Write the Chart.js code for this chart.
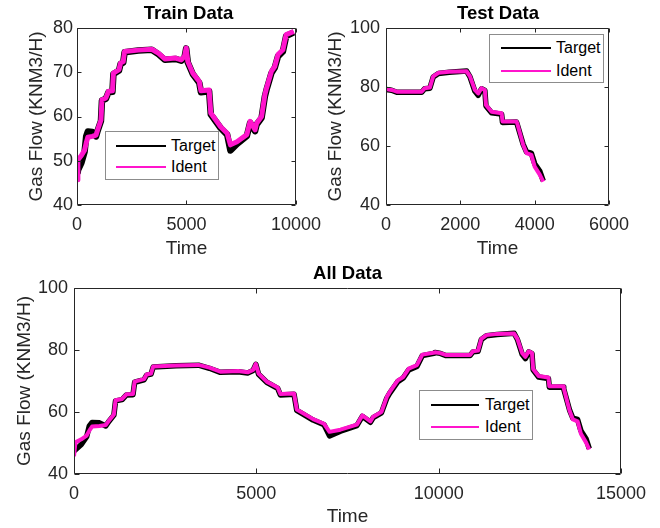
<!DOCTYPE html>
<html>
<head>
<meta charset="utf-8">
<script src="https://cdn.jsdelivr.net/npm/chart.js@4.4.1/dist/chart.umd.min.js"></script>
<style>
  body { margin: 0; background: #fff; }
  #fig { position: relative; width: 660px; height: 528px; background: #fff; overflow: hidden;
         font-family: 'Liberation Sans', Arial, sans-serif; }
  #fig canvas { position: absolute; }
  .ttl { position: absolute; width: 240px; text-align: center; font-weight: bold; font-size: 18.5px;
         line-height: 18px; color: #000; }
  .leg { position: absolute; background: #fff; border: 1px solid #8c8c8c; box-sizing: border-box; }
  .leg .ln { position: absolute; height: 0; }
  .leg .tx { position: absolute; font-size: 16px; line-height: 16px; color: #000; white-space: nowrap; }
</style>
</head>
<body>
<div id="fig">
  <canvas id="cTrain" width="330" height="260" style="left:0;top:0"></canvas>
  <canvas id="cTest" width="350" height="260" style="left:310px;top:0"></canvas>
  <canvas id="cAll" width="660" height="268" style="left:0;top:260px"></canvas>
</div>
<script>
// ---- data ----
const seriesNames = ['Target', 'Ident'];
const titles = ['Train Data', 'Test Data', 'All Data'];
const xLabel = 'Time';
const yLabel = 'Gas Flow (KNM3/H)';

const trainTime = [0, 40, 200, 346, 420, 495, 700, 870, 944, 1094,
  1139, 1319, 1438, 1618, 1663, 1918, 1992, 2112, 2172, 2800,
  3415, 3714, 4013, 4500, 4762, 4912, 4986, 5061, 5286, 5585,
  5660, 6034, 6109, 6558, 6858, 7007, 7306, 7756, 7906, 8130,
  8205, 8430, 8579, 8654, 8879, 9029, 9178, 9403, 9553, 9900];
const trainIdent = [45.7, 50.2, 51.2, 52.4, 54.0, 55.3, 55.5, 55.8, 57.0, 59.2,
  63.8, 64.2, 65.7, 65.8, 69.8, 70.6, 72.1, 72.4, 74.7, 75.0,
  75.2, 74.3, 73.0, 73.2, 72.8, 73.6, 75.5, 72.4, 69.8, 67.9,
  65.8, 66.0, 60.8, 57.7, 56.2, 53.6, 54.3, 55.9, 58.9, 57.0,
  58.5, 60.0, 64.9, 66.4, 70.2, 71.3, 74.0, 75.1, 78.5, 79.2];
const trainTarget = [47.5, 47.8, 49.5, 52.0, 55.5, 56.6, 56.5, 55.5, 56.8, 59.0,
  63.6, 64.0, 65.5, 65.6, 69.6, 70.4, 71.9, 72.2, 74.5, 74.9,
  75.1, 74.1, 72.8, 73.0, 72.6, 73.4, 75.4, 72.2, 69.6, 67.6,
  65.5, 65.7, 60.5, 57.4, 55.9, 52.3, 53.8, 55.6, 58.6, 56.7,
  58.2, 59.7, 64.5, 66.0, 69.8, 71.0, 73.6, 74.7, 78.2, 79.0];

const testTime = [0, 150, 290, 960, 1040, 1180, 1270, 1410, 1700, 2170,
  2260, 2390, 2480, 2570, 2660, 2690, 2840, 3110, 3135, 3510,
  3530, 3690, 3780, 3910, 4000, 4140, 4230];
const testIdent = [79.3, 79.0, 78.4, 78.4, 79.6, 79.8, 83.6, 84.8, 85.2, 85.3,
  83.6, 79.0, 77.8, 79.6, 79.0, 73.9, 71.6, 71.1, 68.3, 68.3,
  67.7, 60.4, 57.6, 57.0, 53.0, 50.2, 47.9];
const testTarget = [79.2, 78.9, 78.2, 78.2, 79.4, 79.6, 83.4, 84.6, 85.0, 85.4,
  83.4, 78.6, 77.2, 79.4, 78.8, 73.6, 71.3, 70.8, 68.0, 68.1,
  67.4, 60.6, 58.0, 57.6, 54.0, 51.4, 48.2];

// axis ticks
const trainXTicks = [0, 5000, 10000];
const trainYTicks = [40, 50, 60, 70, 80];
const testXTicks = [0, 2000, 4000, 6000];
const testYTicks = [40, 60, 80, 100];
const allXTicks = [0, 5000, 10000, 15000];
const allYTicks = [40, 60, 80, 100];

const colTarget = '#000000';
const colIdent = '#ff14cc';
const axisCol = '#262626';
Chart.defaults.font.family = "'Liberation Sans', Arial, sans-serif";

// all data = train followed by test
const testOffset = trainTime[trainTime.length - 1];
const allTime = trainTime.concat(testTime.map(t => t + testOffset));
const allTarget = trainTarget.concat(testTarget);
const allIdent = trainIdent.concat(testIdent);

function pts(xs, ys) { return xs.map((x, i) => ({ x: x, y: ys[i] })); }

// matlab style box + inward ticks
const boxPlugin = {
  id: 'mbox',
  afterDraw(chart, args, o) {
    const { ctx, chartArea: a, scales } = chart;
    const L = Math.round(a.left) + 0.5, R = Math.round(a.right) - 0.5;
    const T = Math.round(a.top) + 0.5, B = Math.round(a.bottom) - 0.5;
    const tl = o.len || 4;
    ctx.save();
    ctx.strokeStyle = axisCol;
    ctx.lineWidth = 1;
    ctx.beginPath();
    ctx.rect(L, T, R - L, B - T);
    scales.x.ticks.forEach(t => {
      const p = Math.round(scales.x.getPixelForValue(t.value)) + 0.5;
      ctx.moveTo(p, B); ctx.lineTo(p, B - tl);
      ctx.moveTo(p, T); ctx.lineTo(p, T + tl);
    });
    scales.y.ticks.forEach(t => {
      const p = Math.round(scales.y.getPixelForValue(t.value)) + 0.5;
      ctx.moveTo(L, p); ctx.lineTo(L + tl, p);
      ctx.moveTo(R, p); ctx.lineTo(R - tl, p);
    });
    ctx.stroke();
    ctx.restore();
  }
};

function panel(id, p) {
  return new Chart(document.getElementById(id), {
    type: 'line',
    data: {
      datasets: [
        { label: seriesNames[1], data: pts(p.time, p.ident), borderColor: colIdent,
          borderWidth: p.wIdent, order: 0 },
        { label: seriesNames[0], data: pts(p.time, p.target), borderColor: colTarget,
          borderWidth: p.wTarget, order: 1 }
      ]
    },
    options: {
      responsive: false,
      animation: false,
      layout: { padding: { left: 0, top: p.top, right: p.right, bottom: 0 } },
      elements: { point: { radius: 0 }, line: { tension: 0, borderJoinStyle: 'round' } },
      plugins: { legend: { display: false }, tooltip: { enabled: false }, title: { display: false },
                 mbox: { len: p.tickLen } },
      scales: {
        x: {
          type: 'linear', min: p.xTicks[0], max: p.xTicks[p.xTicks.length - 1],
          grid: { display: false, drawTicks: false }, border: { display: false },
          ticks: { color: axisCol, font: { size: 18 }, padding: p.xTickPad, maxRotation: 0, autoSkip: false,
                   callback: v => String(v) },
          afterBuildTicks: s => { s.ticks = p.xTicks.map(v => ({ value: v })); },
          afterFit: s => { s.height = p.xH; },
          title: { display: true, text: xLabel, color: axisCol, font: { size: 19 }, padding: { top: 0, bottom: p.xTitlePad } }
        },
        y: {
          min: p.yTicks[0], max: p.yTicks[p.yTicks.length - 1],
          grid: { display: false, drawTicks: false }, border: { display: false },
          ticks: { color: axisCol, font: { size: 18 }, padding: p.yTickPad, autoSkip: false,
                   callback: v => String(v) },
          afterBuildTicks: s => { s.ticks = p.yTicks.map(v => ({ value: v })); },
          afterFit: s => { s.width = p.yW; },
          title: { display: true, text: yLabel, color: axisCol, font: { size: 19 }, padding: { top: p.yTitlePad, bottom: 0 } }
        }
      }
    },
    plugins: [boxPlugin]
  });
}

panel('cTrain', { time: trainTime, target: trainTarget, ident: trainIdent,
  xTicks: trainXTicks, yTicks: trainYTicks, top: 28, right: 30, xH: 55, yW: 77,
  xTickPad: 9, xTitlePad: 0, yTickPad: 4, yTitlePad: 25, wIdent: 5, wTarget: 6.5, tickLen: 4 });
panel('cTest', { time: testTime, target: testTarget, ident: testIdent,
  xTicks: testXTicks, yTicks: testYTicks, top: 28, right: 51, xH: 55, yW: 76,
  xTickPad: 9, xTitlePad: 0, yTickPad: 6, yTitlePad: 14, wIdent: 4, wTarget: 5.5, tickLen: 4 });
panel('cAll', { time: allTime, target: allTarget, ident: allIdent,
  xTicks: allXTicks, yTicks: allYTicks, top: 28, right: 39, xH: 54, yW: 74,
  xTickPad: 9, xTitlePad: 0, yTickPad: 6, yTitlePad: 13, wIdent: 4, wTarget: 5.5, tickLen: 5 });

// titles and legends as html overlays
const fig = document.getElementById('fig');
function addTitle(text, cx, top) {
  const d = document.createElement('div');
  d.className = 'ttl';
  d.style.left = (cx - 120) + 'px';
  d.style.top = top + 'px';
  d.textContent = text;
  fig.appendChild(d);
}
addTitle(titles[0], 188.5, 4);
addTitle(titles[1], 498, 4);
addTitle(titles[2], 347.5, 264);

function addLegend(left, top, w, h, lineX, lineW, y1, y2, textX) {
  const box = document.createElement('div');
  box.className = 'leg';
  Object.assign(box.style, { left: left + 'px', top: top + 'px', width: w + 'px', height: h + 'px' });
  const rows = [
    { name: seriesNames[0], col: colTarget, lw: 2, y: y1 },
    { name: seriesNames[1], col: colIdent, lw: 2, y: y2 }
  ];
  rows.forEach(r => {
    const ln = document.createElement('div');
    ln.className = 'ln';
    Object.assign(ln.style, { left: lineX + 'px', width: lineW + 'px', top: Math.round(r.y - r.lw / 2) + 'px',
      borderTop: r.lw + 'px solid ' + r.col });
    box.appendChild(ln);
    const tx = document.createElement('div');
    tx.className = 'tx';
    Object.assign(tx.style, { left: textX + 'px', top: (r.y - 8) + 'px' });
    tx.textContent = r.name;
    box.appendChild(tx);
  });
  fig.appendChild(box);
}
addLegend(105, 131, 114, 49, 10, 50, 14, 35, 65);
addLegend(489, 34, 115, 49, 11, 50, 13, 36, 66);
addLegend(419, 390, 114, 50, 11, 48, 14, 36, 65);
</script>
</body>
</html>
